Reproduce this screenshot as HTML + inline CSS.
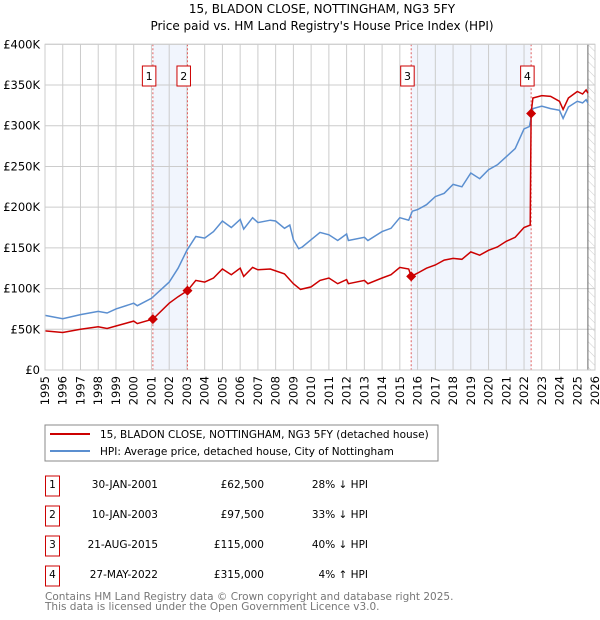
<!DOCTYPE html>
<html><head><meta charset="utf-8"><style>
body{margin:0;background:#fff;font-family:"DejaVu Sans","Liberation Sans",sans-serif;}
#wrap{position:relative;width:600px;height:620px;overflow:hidden;}
svg text{font-family:"DejaVu Sans","Liberation Sans",sans-serif;}
</style></head><body><div id="wrap">
<svg id="chart" width="600" height="620">
<defs><pattern id="hatch" width="6" height="6" patternUnits="userSpaceOnUse" patternTransform="rotate(-45)"><line x1="0" y1="0" x2="0" y2="6" stroke="#ccc" stroke-width="1"/></pattern></defs>
<text x="322" y="13" text-anchor="middle" font-size="12">15, BLADON CLOSE, NOTTINGHAM, NG3 5FY</text>
<text x="322" y="30" text-anchor="middle" font-size="12">Price paid vs. HM Land Registry's House Price Index (HPI)</text>
<g id="plot"></g>
<rect x="45" y="425" width="393" height="36" fill="#fff" stroke="#888"/>
<line x1="50" y1="434" x2="90" y2="434" stroke="#cc0000" stroke-width="2"/>
<text x="100" y="438" font-size="10.5">15, BLADON CLOSE, NOTTINGHAM, NG3 5FY (detached house)</text>
<line x1="50" y1="451" x2="90" y2="451" stroke="#5b8fd0" stroke-width="2"/>
<text x="100" y="455" font-size="10.5">HPI: Average price, detached house, City of Nottingham</text>
<g id="table" font-size="10.5"></g>
<text x="45" y="600" font-size="10.5" fill="#777">Contains HM Land Registry data © Crown copyright and database right 2025.</text>
<text x="45" y="610" font-size="10.5" fill="#777">This data is licensed under the Open Government Licence v3.0.</text>
</svg></div>
<script>
const hpiYears=[1995,1996,1997,1998,1998.5,1999,2000,2000.2,2001,2002,2002.5,2003,2003.5,2004,2004.5,2005,2005.5,2006,2006.2,2006.7,2007,2007.7,2008,2008.5,2008.8,2009,2009.3,2009.5,2010,2010.5,2011,2011.5,2012,2012.1,2013,2013.2,2014,2014.5,2015,2015.5,2015.7,2016,2016.5,2017,2017.5,2018,2018.5,2019,2019.5,2020,2020.5,2021,2021.5,2022,2022.3,2022.5,2023,2023.5,2024,2024.2,2024.5,2025,2025.3,2025.5,2025.6];
const hpiValues=[67,63,68,72,70,75,82,79,88,108,125,147,164,162,170,183,175,185,173,187,181,184,183,174,178,160,149,151,160,169,166,159,167,159,163,159,170,174,187,184,195,197,203,213,217,228,225,242,235,246,252,262,272,296,299,321,324,321,319,309,323,330,328,332,328];
const propYears=[1995,1996,1997,1998,1998.5,1999,2000,2000.2,2001.08,2002,2002.5,2003.03,2003.5,2004,2004.5,2005,2005.5,2006,2006.2,2006.7,2007,2007.7,2008.5,2009,2009.4,2010,2010.5,2011,2011.5,2012,2012.1,2013,2013.2,2014,2014.5,2015,2015.5,2015.64,2016,2016.5,2017,2017.5,2018,2018.5,2019,2019.5,2020,2020.5,2021,2021.5,2022,2022.35,2022.4,2022.5,2023,2023.5,2024,2024.2,2024.5,2025,2025.3,2025.5,2025.6];
const propValues=[48,46,50,53,51,54,60,57,62.5,82,90,97.5,110,108,113,124,117,125,115,126,123,124,118,106,99,102,110,113,106,111,106,110,106,113,117,126,124,115,119,125,129,135,137,136,145,141,147,151,158,163,175,178,315,334,337,336,330,320,334,342,339,344,340];
const saleYears=[2001.08,2003.03,2015.64,2022.40];
const saleValues=[62.5,97.5,115,315];
const saleLabels=["1","2","3","4"];
const saleDates=["30-JAN-2001","10-JAN-2003","21-AUG-2015","27-MAY-2022"];
const salePrices=["£62,500","£97,500","£115,000","£315,000"];
const saleHpi=["28% ↓ HPI","33% ↓ HPI","40% ↓ HPI","4% ↑ HPI"];
const yTicks=[0,50,100,150,200,250,300,350,400];
const yTickLabels=["£0","£50K","£100K","£150K","£200K","£250K","£300K","£350K","£400K"];
const xTicks=[1995,1996,1997,1998,1999,2000,2001,2002,2003,2004,2005,2006,2007,2008,2009,2010,2011,2012,2013,2014,2015,2016,2017,2018,2019,2020,2021,2022,2023,2024,2025,2026];

const X0=45,X1=595,Y0=370,Y1=44.3;
const xs=y=>X0+(y-1995)/(2026-1995)*(X1-X0);
const ys=v=>Y0-v/400*(Y0-Y1);
const NS="http://www.w3.org/2000/svg";
const plot=document.getElementById('plot');
function mk(tag,attrs,parent,txt){const e=document.createElementNS(NS,tag);for(const k in attrs)e.setAttribute(k,attrs[k]);if(txt!==undefined)e.textContent=txt;(parent||plot).appendChild(e);return e;}
let e;
e=mk('rect',{x:X0,y:Y1,width:X1-X0,height:Y0-Y1,fill:'#fff'});


[[0,1],[2,3]].forEach((p,i)=>{
 e=mk('rect',{x:xs(saleYears[p[0]]),y:Y1,width:xs(saleYears[p[1]])-xs(saleYears[p[0]]),height:Y0-Y1,fill:'#eef3fc',opacity:0.8});
 
 
});
e=mk('rect',{x:xs(2025.6),y:Y1,width:X1-xs(2025.6),height:Y0-Y1,fill:'url(#hatch)'});


xTicks.forEach(t=>{
 e=mk('line',{x1:xs(t),x2:xs(t),y1:Y1,y2:Y0,stroke:'#ccc'});
 
 
 e=mk('text',{x:0,y:0,transform:`translate(${xs(t)+4},${Y0+6}) rotate(-90)`,'text-anchor':'end','font-size':11.5},plot,String(t));
 
 
});
yTicks.forEach((t,i)=>{
 e=mk('line',{x1:X0,x2:X1,y1:ys(t),y2:ys(t),stroke:'#ccc'});
 
 
 e=mk('text',{x:40,y:ys(t)+4,'text-anchor':'end','font-size':11.5},plot,yTickLabels[i]);
 
 
});
e=mk('line',{x1:xs(2025.6),x2:xs(2025.6),y1:Y1,y2:Y0,stroke:'#666'});


saleYears.forEach((s,i)=>{
 e=mk('line',{x1:xs(s),x2:xs(s),y1:Y1,y2:Y0,stroke:'#e06060','stroke-dasharray':'2,2'});
 
 
});
const pth=(xa,va)=>xa.map((x,i)=>(i?'L':'M')+xs(x).toFixed(1)+','+ys(va[i]).toFixed(1)).join('');
e=mk('path',{d:pth(hpiYears,hpiValues),fill:'none',stroke:'#5b8fd0','stroke-width':1.5});


e=mk('path',{d:pth(propYears,propValues),fill:'none',stroke:'#cc0000','stroke-width':1.5});


saleYears.forEach((s,i)=>{
 const cx=xs(s),cy=ys(saleValues[i]);
 e=mk('path',{d:`M${cx},${cy-5}L${cx+5},${cy}L${cx},${cy+5}L${cx-5},${cy}Z`,fill:'#cc0000'});
 
 
 e=mk('rect',{x:cx-10.5,y:66,width:13.5,height:20,fill:'#fff',stroke:'#cc0000'});
 
 
 e=mk('text',{x:cx-3.75,y:80,'text-anchor':'middle','font-size':11},plot,saleLabels[i]);
 
 
});
e=mk('rect',{x:X0,y:Y1,width:X1-X0,height:Y0-Y1,fill:'none',stroke:'#ccc'});


const tb=document.getElementById('table');
saleLabels.forEach((l,i)=>{
 const cy=486+i*30;
 e=mk('rect',{x:45.5,y:cy-10,width:14,height:20,fill:'#fff',stroke:'#cc0000'},tb);
 
 
 e=mk('text',{x:52.5,y:cy+2,'text-anchor':'middle'},tb,l);
 
 
 e=mk('text',{x:158,y:cy+2,'text-anchor':'end'},tb,saleDates[i]);
 
 
 e=mk('text',{x:264,y:cy+2,'text-anchor':'end'},tb,salePrices[i]);
 
 
 e=mk('text',{x:368,y:cy+2,'text-anchor':'end'},tb,saleHpi[i]);
 
 
});
</script></body></html>
